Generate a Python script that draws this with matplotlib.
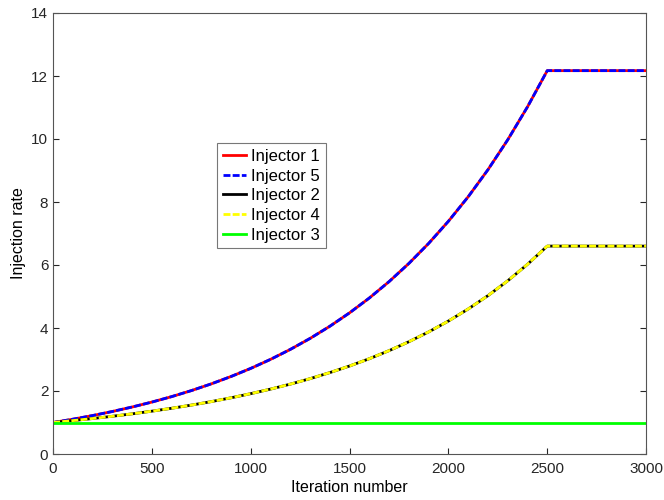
import matplotlib
matplotlib.use('Agg')
from matplotlib import pyplot as plt

# values (every 100 iterations up to the knee)
iters = [0, 100, 200, 300, 400, 500, 600, 700, 800, 900, 1000,
         1100, 1200, 1300, 1400, 1500, 1600, 1700, 1800, 1900, 2000,
         2100, 2200, 2300, 2400, 2500, 3000]
rate_1 = [1.000, 1.105, 1.221, 1.350, 1.492, 1.649, 1.822, 2.014, 2.226, 2.460, 2.718,
          3.004, 3.320, 3.669, 4.055, 4.482, 4.953, 5.474, 6.050, 6.686, 7.389,
          8.166, 9.025, 9.974, 11.02, 12.17, 12.17]
rate_5 = rate_1
rate_2 = [1.000, 1.060, 1.126, 1.198, 1.275, 1.360, 1.452, 1.553, 1.663, 1.784, 1.916,
          2.060, 2.218, 2.392, 2.584, 2.794, 3.026, 3.282, 3.564, 3.876, 4.221,
          4.603, 5.027, 5.498, 6.021, 6.600, 6.600]
rate_4 = rate_2
rate_3 = [1.0] * len(iters)

plt.rcParams['font.family'] = ['Liberation Sans', 'DejaVu Sans']

fig = plt.figure(figsize=(6.64, 5.0), dpi=100)
ax = fig.add_axes([0.08, 0.092, 0.893, 0.882])

ax.plot(iters, rate_1, color='#ff0000', lw=2.0, label='Injector 1')
ax.plot(iters, rate_5, color='#0000ff', lw=2.0, dashes=(2.5, 0.8), label='Injector 5')
ax.plot(iters, rate_2, color='#000000', lw=2.0, label='Injector 2')
ax.plot(iters, rate_4, color='#ffff00', lw=2.0, dashes=(2.5, 0.8), label='Injector 4')
ax.plot(iters, rate_3, color='#00ff00', lw=2.0, label='Injector 3')

ax.set_xlim(0, 3000)
ax.set_ylim(0, 14)
ax.set_xticks(range(0, 3001, 500))
ax.set_yticks(range(0, 15, 2))
ax.tick_params(direction='in', length=4, labelsize=11, colors='#262626', width=0.8)
ax.tick_params(axis='x', pad=6)
for s in ax.spines.values():
    s.set_color('#555555')
    s.set_linewidth(0.8)
ax.tick_params(top=False, right=True)

ax.set_xlabel('Iteration number', fontsize=11.5, labelpad=3)
ax.set_ylabel('Injection rate', fontsize=11.5, labelpad=4)

leg = ax.legend(loc='upper left', bbox_to_anchor=(0.2766, 0.705), fontsize=12,
                frameon=True, fancybox=False, handlelength=1.4, handletextpad=0.3,
                borderpad=0.35, labelspacing=0.28, borderaxespad=0)
leg.get_frame().set_edgecolor('#555555')
leg.get_frame().set_linewidth(0.8)

plt.savefig('out.png', dpi=100)
plt.close()
